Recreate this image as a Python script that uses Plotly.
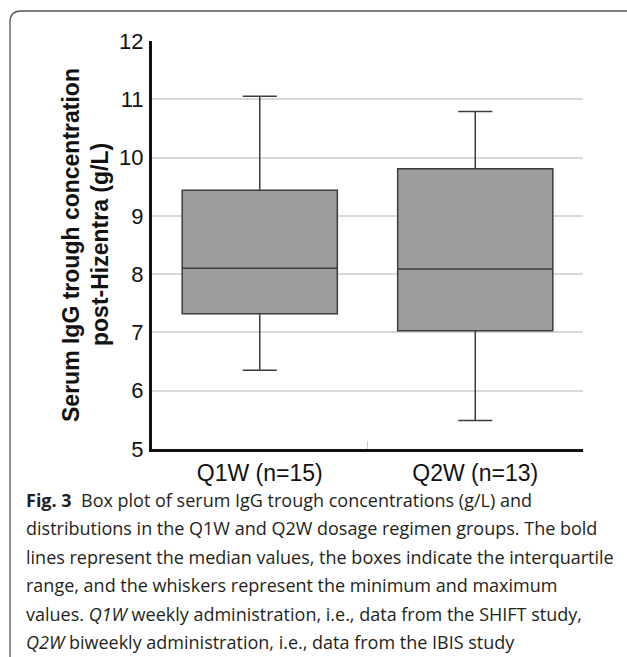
import plotly.graph_objects as go

categories = ["Q1W (n=15)", "Q2W (n=13)"]
lower_whisker = [6.35, 5.49]
q1_values = [7.32, 7.03]
median_values = [8.10, 8.09]
q3_values = [9.44, 9.81]
upper_whisker = [11.05, 10.79]

y_ticks = [5, 6, 7, 8, 9, 10, 11, 12]

y_title_lines = ["Serum IgG trough concentration", "post-Hizentra (g/L)"]
caption_lines = [
    "<b>Fig. 3</b>  Box plot of serum IgG trough concentrations (g/L) and",
    "distributions in the Q1W and Q2W dosage regimen groups. The bold",
    "lines represent the median values, the boxes indicate the interquartile",
    "range, and the whiskers represent the minimum and maximum",
    "values. <i>Q1W</i> weekly administration, i.e., data from the SHIFT study,",
    "<i>Q2W</i> biweekly administration, i.e., data from the IBIS study",
]

W, H = 627, 657
L, R, T, B = 152, 44, 41, 208
PW, PH = W - L - R, H - T - B


def px(x):
    return (x - L) / PW


def py(y):
    return (H - B - y) / PH


fig = go.Figure()
fig.add_trace(go.Box(
    x=categories,
    lowerfence=lower_whisker,
    q1=q1_values,
    median=median_values,
    q3=q3_values,
    upperfence=upper_whisker,
    fillcolor="#9d9d9d",
    line=dict(color="#3c3c3c", width=1.5),
    whiskerwidth=0.22,
    boxpoints=False,
    showlegend=False,
    hoverinfo="skip",
))

# frame (rounded corner top-left, extends beyond the right/bottom edges)
fx, fy, r = 10, 11, 11
frame_path = (
    f"M {px(fx)},{py(H + 5)} L {px(fx)},{py(fy + r)} "
    f"Q {px(fx)},{py(fy)} {px(fx + r)},{py(fy)} L {px(W + 5)},{py(fy)}"
)
shapes = [dict(type="path", xref="paper", yref="paper", path=frame_path,
               line=dict(color="#555555", width=1.3))]

annotations = []
title_x = [71, 100]
for t, xx in zip(y_title_lines, title_x):
    annotations.append(dict(
        text="<b>" + t + "</b>", xref="paper", yref="paper", x=px(xx), y=py(245),
        xanchor="center", yanchor="middle", textangle=-90, showarrow=False,
        font=dict(family="Liberation Sans, Arial", size=23, color="#111111"),
    ))

cap_y = [500, 528, 557, 585, 614, 642]
for t, yy in zip(caption_lines, cap_y):
    annotations.append(dict(
        text=t, xref="paper", yref="paper", x=px(24), y=py(yy),
        xanchor="left", yanchor="middle", showarrow=False,
        font=dict(family="Open Sans", size=18, color="#231f20"),
    ))

fig.update_layout(
    width=W, height=H,
    margin=dict(l=L, r=R, t=T, b=B, pad=0),
    paper_bgcolor="white", plot_bgcolor="white",
    boxgap=0.28,
    boxgroupgap=0,
    shapes=shapes,
    annotations=annotations,
    font=dict(family="Liberation Sans, Arial", color="#111111"),
    xaxis=dict(
        type="category", showgrid=False, showline=True, linecolor="#111111",
        linewidth=3, ticks="inside", tickson="boundaries", ticklen=8,
        tickcolor="#cccccc", tickwidth=1, tickfont=dict(size=23, color="#111111"),
        ticklabelstandoff=1, zeroline=False,
    ),
    yaxis=dict(
        range=[5, 12], tickvals=y_ticks, showgrid=True, gridcolor="#d9d9d9",
        gridwidth=1.5, showline=True, linecolor="#111111", linewidth=3,
        ticks="", tickfont=dict(size=22, color="#111111"), zeroline=False,
        ticklabelstandoff=1,
    ),
)

fig.write_html(
    "out.html",
    config={"displayModeBar": False},
    post_script="document.body.style.margin='0px';",
)
